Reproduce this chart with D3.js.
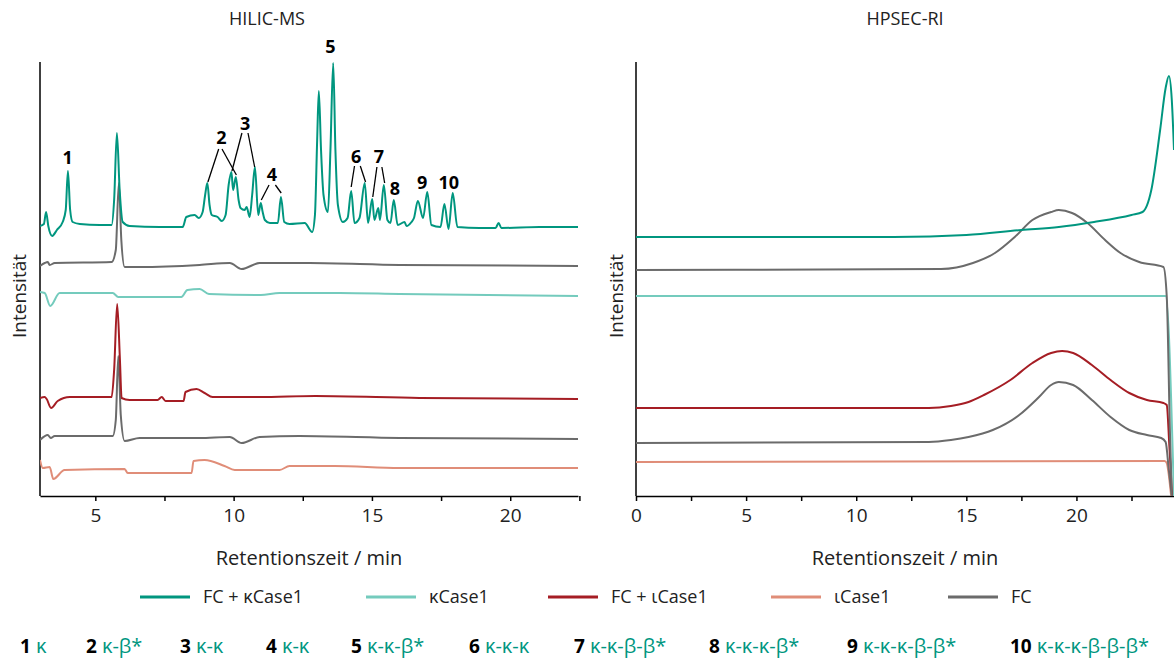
<!DOCTYPE html>
<html lang="de">
<head>
<meta charset="UTF-8">
<title>HILIC-MS / HPSEC-RI</title>
<script src="https://d3js.org/d3.v7.min.js"></script>
<style>
  body { margin: 0; background: #fff; font-family: "Open Sans", "Noto Sans", sans-serif; }
  .axis path, .axis line { stroke: #000; stroke-width: 1.5px; }
  .axis text { font-size: 19px; fill: #222; font-family: "Open Sans", sans-serif; }
  .trace { fill: none; stroke-width: 2px; stroke-linejoin: round; }
</style>
</head>
<body>
<div id="chart"></div>
<script>
// colours / names of the samples
const seriesNames = ["FC + κCase1", "κCase1", "FC + ιCase1", "ιCase1", "FC"];
const seriesColors = ["#00967f", "#74cbbd", "#a51d24", "#e08d78", "#6b6b6b"];

// HILIC-MS traces: [Retentionszeit (min), Intensität (a.u., with vertical offset)]
const hilicKappaMix = [
  [3.0,270],[3.14,272],[3.22,284],[3.30,270],[3.44,260],[3.61,266],[3.82,274],[3.93,286],[4.01,325],[4.09,286],
  [4.18,274],[4.44,272],[5.16,271],[5.59,271],[5.68,296],[5.78,363],[5.88,306],[5.99,274],[6.24,270],[7.33,269],
  [8.16,269],[8.29,279],[8.59,281],[8.74,278],[8.88,284],[8.97,301],[9.05,313],[9.13,291],[9.21,281],[9.42,279],
  [9.57,275],[9.71,281],[9.82,311],[9.92,324],[9.98,306],[10.08,319],[10.18,296],[10.25,288],[10.40,286],[10.47,289],
  [10.58,279],[10.67,301],[10.77,329],[10.89,281],[10.98,293],[11.05,284],[11.13,276],[11.31,273],[11.60,273],[11.71,299],
  [11.83,274],[12.02,272],[12.57,273],[12.84,264],[12.94,281],[13.02,356],[13.08,405],[13.16,346],[13.25,301],[13.41,284],
  [13.50,346],[13.60,433],[13.68,346],[13.77,291],[13.95,274],[14.12,278],[14.25,305],[14.37,273],[14.55,278],[14.74,313],
  [14.86,273],[15.01,297],[15.09,276],[15.23,288],[15.29,276],[15.43,311],[15.56,276],[15.67,273],[15.79,296],[15.93,271],
  [16.18,274],[16.25,270],[16.43,274],[16.52,278],[16.66,295],[16.85,278],[17.00,304],[17.15,271],[17.48,269],[17.62,292],
  [17.77,267],[17.92,303],[18.09,269],[18.89,268],[19.47,268],[19.58,273],[19.68,268],[21.05,269],[22.45,269]
];
const hilicFcUpper = [
  [3.0,230],[3.17,233],[3.28,234],[3.35,231],[3.53,233],[5.59,234],[5.74,246],[5.85,313],[5.94,256],[6.06,229],
  [6.60,229],[8.77,231],[9.86,233],[10.29,227],[10.94,233],[12.75,233],[16.0,231],[22.45,230]
];
const hilicKappa = [
  [3.0,204],[3.17,203],[3.37,190],[3.71,203],[5.63,203],[5.83,199],[6.06,199],[8.11,199],[8.33,206],[8.77,207],
  [9.11,202],[10.98,201],[11.66,203],[13.83,203],[16.0,202],[22.45,200]
];
const hilicIotaMix = [
  [3.0,98],[3.17,99],[3.24,97],[3.40,88],[3.64,95],[4.08,99],[5.59,99],[5.68,126],[5.79,192],[5.89,136],
  [5.95,98],[6.24,96],[7.25,96],[7.40,99],[7.54,95],[8.19,95],[8.26,104],[8.66,107],[8.95,103],[9.24,99],
  [10.94,99],[12.96,100],[16.72,98],[22.45,97]
];
const hilicFcLower = [
  [3.0,56],[3.28,61],[3.39,58],[3.53,60],[5.63,60],[5.74,76],[5.83,140],[5.92,81],[6.06,55],[6.60,58],
  [8.77,58],[9.86,59],[10.29,53],[10.94,59],[12.38,60],[16.0,58],[22.45,57]
];
const hilicIota = [
  [3.0,36],[3.10,28],[3.35,29],[3.48,17],[3.89,26],[6.06,27],[6.17,23],[8.48,23],[8.55,35],[8.95,36],
  [9.67,30],[10.04,26],[11.66,26],[12.02,30],[13.65,30],[16.0,28],[22.45,28]
];

// HPSEC-RI traces
const hpsecKappaMix = [
  [0,259],[11.7,259],[15.0,261],[17.5,266],[19.2,269],[20.8,274],[22.5,281],[23.0,284],[23.4,306],[23.8,366],
  [24.05,408],[24.2,420],[24.33,396],[24.43,346]
];
const hpsecFcUpper = [
  [0,226],[13.85,227],[15.3,233],[16.3,243],[17.2,259],[18.0,276],[18.85,284],[19.2,286],[19.8,283],[20.5,273],
  [21.3,256],[22.0,243],[22.85,234],[23.95,229],[24.1,200],[24.25,60],[24.33,0]
];
const hpsecKappa = [
  [0,200],[24.05,200],[24.2,160],[24.35,60],[24.43,0]
];
const hpsecIotaMix = [
  [0,88],[13.3,88],[14.3,90],[15.1,94],[15.8,101],[17.0,116],[18.0,133],[18.85,143],[19.35,145],[19.85,143],
  [20.7,131],[21.55,116],[22.4,103],[23.2,96],[23.95,93],[24.1,91],[24.22,50],[24.35,0]
];
const hpsecFcLower = [
  [0,53],[13.3,54],[14.3,56],[15.1,59],[16.2,66],[17.4,81],[18.3,99],[18.85,111],[19.2,114],[19.85,111],
  [20.7,96],[21.55,79],[22.4,66],[23.2,61],[23.85,58],[24.05,54],[24.2,25],[24.33,0]
];
const hpsecIota = [
  [0,34],[24.0,35],[24.1,33],[24.2,20],[24.3,0]
];

// peak annotations (HILIC-MS): label position and leader lines
const peakLabels = [
  {text:"1", t:4.0, v:338}, {text:"2", t:9.56, v:358}, {text:"3", t:10.42, v:372}, {text:"4", t:11.38, v:321},
  {text:"5", t:13.5, v:449}, {text:"6", t:14.43, v:339}, {text:"7", t:15.25, v:339}, {text:"8", t:15.83, v:307},
  {text:"9", t:16.82, v:313}, {text:"10", t:17.78, v:313}
];
const peakLeaders = [
  [9.46,347,9.07,314],[9.58,347,10.1,321],
  [10.3,363,9.94,325],[10.52,363,10.76,329],
  [11.28,311,11.0,296],[11.51,311,11.72,303],
  [14.37,330,14.25,309],[14.58,330,14.77,314],
  [15.18,329,15.03,299],[15.36,329,15.46,313]
];

// key under the charts
const keyNumbers = ["1","2","3","4","5","6","7","8","9","10"];
const keyStructures = ["κ","κ-β*","κ-κ","κ-κ","κ-κ-β*","κ-κ-κ","κ-κ-β-β*","κ-κ-κ-β*","κ-κ-κ-β-β*","κ-κ-κ-β-β-β*"];
const keyX = [20, 86, 180, 266, 351, 469, 574, 709, 847, 1010];

const W = 1174, H = 660;
const svg = d3.select("#chart").append("svg").attr("width", W).attr("height", H);

// ---- HILIC-MS panel
const xL = d3.scaleLinear().domain([3, 22.45]).range([40, 578]);
const yL = d3.scaleLinear().domain([0, 434]).range([496, 62]);
// ---- HPSEC-RI panel
const xR = d3.scaleLinear().domain([0, 24.43]).range([636, 1174]);
const yR = d3.scaleLinear().domain([0, 434]).range([496, 62]);

function drawAxes(x, y, tickVals, title, titleX, ylabX) {
  const g = svg.append("g");
  g.append("g").attr("class", "axis")
    .attr("transform", `translate(0,${y.range()[0]})`)
    .call(d3.axisBottom(x).tickValues(tickVals).tickSize(5).tickSizeOuter(0)
      .tickFormat(d => d % 5 === 0 ? d : ""))
    .call(a => a.selectAll("text").attr("dy", "0.95em"));
  g.append("line")
    .attr("x1", x.range()[0]).attr("x2", x.range()[0])
    .attr("y1", y.range()[1]).attr("y2", y.range()[0])
    .attr("stroke", "#000").attr("stroke-width", 1.5);
  svg.append("text").attr("x", titleX).attr("y", 25).attr("text-anchor", "middle")
    .attr("font-size", 18).attr("fill", "#222").text(title);
  const xm = (x.range()[0] + x.range()[1]) / 2;
  svg.append("text").attr("x", xm).attr("y", 565).attr("text-anchor", "middle")
    .attr("font-size", 20).attr("fill", "#222").text("Retentionszeit / min");
  svg.append("text").attr("transform", `translate(${ylabX},296) rotate(-90)`)
    .attr("text-anchor", "middle").attr("font-size", 19).attr("fill", "#222").text("Intensität");
}

drawAxes(xL, yL, [5, 7.5, 10, 12.5, 15, 17.5, 20, 22.5], "HILIC-MS", 267, 26);
drawAxes(xR, yR, [0, 2.5, 5, 7.5, 10, 12.5, 15, 17.5, 20, 22.5], "HPSEC-RI", 905, 623);

function drawTraces(x, y, traces, clipId) {
  svg.append("clipPath").attr("id", clipId).append("rect")
    .attr("x", x.range()[0]).attr("y", 0)
    .attr("width", x.range()[1] - x.range()[0] + 2).attr("height", y.range()[0]);
  const line = d3.line().x(d => x(d[0])).y(d => y(d[1])).curve(d3.curveMonotoneX);
  svg.append("g").attr("clip-path", `url(#${clipId})`)
    .selectAll("path").data(traces).join("path")
    .attr("class", "trace")
    .attr("stroke", d => seriesColors[d.s])
    .attr("d", d => line(d.values));
}

drawTraces(xL, yL, [
  {s:3, values:hilicIota}, {s:4, values:hilicFcLower}, {s:2, values:hilicIotaMix},
  {s:1, values:hilicKappa}, {s:4, values:hilicFcUpper}, {s:0, values:hilicKappaMix}
], "clipL");
drawTraces(xR, yR, [
  {s:3, values:hpsecIota}, {s:4, values:hpsecFcLower}, {s:2, values:hpsecIotaMix},
  {s:1, values:hpsecKappa}, {s:4, values:hpsecFcUpper}, {s:0, values:hpsecKappaMix}
], "clipR");

// peak labels
svg.append("g").selectAll("line").data(peakLeaders).join("line")
  .attr("x1", d => xL(d[0])).attr("y1", d => yL(d[1]))
  .attr("x2", d => xL(d[2])).attr("y2", d => yL(d[3]))
  .attr("stroke", "#000").attr("stroke-width", 1.3);
svg.append("g").selectAll("text").data(peakLabels).join("text")
  .attr("x", d => xL(d.t)).attr("y", d => yL(d.v))
  .attr("dy", "0.36em").attr("text-anchor", "middle")
  .attr("font-size", 18).attr("font-weight", "bold").attr("fill", "#000")
  .text(d => d.text);

// legend
const legX = [140, 366, 548, 771, 948];
const leg = svg.append("g").selectAll("g").data(seriesNames).join("g")
  .attr("transform", (d, i) => `translate(${legX[i]},597)`);
leg.append("line").attr("x1", 0).attr("x2", 50)
  .attr("stroke", (d, i) => seriesColors[i]).attr("stroke-width", 3);
leg.append("text").attr("x", 63).attr("dy", "0.35em")
  .attr("font-size", 18).attr("fill", "#222").text(d => d);

// key of structures
const key = svg.append("g").selectAll("text").data(keyNumbers).join("text")
  .attr("x", (d, i) => keyX[i]).attr("y", 647).attr("dy", "0.35em");
key.append("tspan").attr("font-weight", "bold").attr("font-size", 19).attr("fill", "#000").text(d => d);
key.append("tspan").attr("fill", seriesColors[0]).attr("font-size", 20).attr("dx", 5).text((d, i) => keyStructures[i]);
</script>
</body>
</html>
